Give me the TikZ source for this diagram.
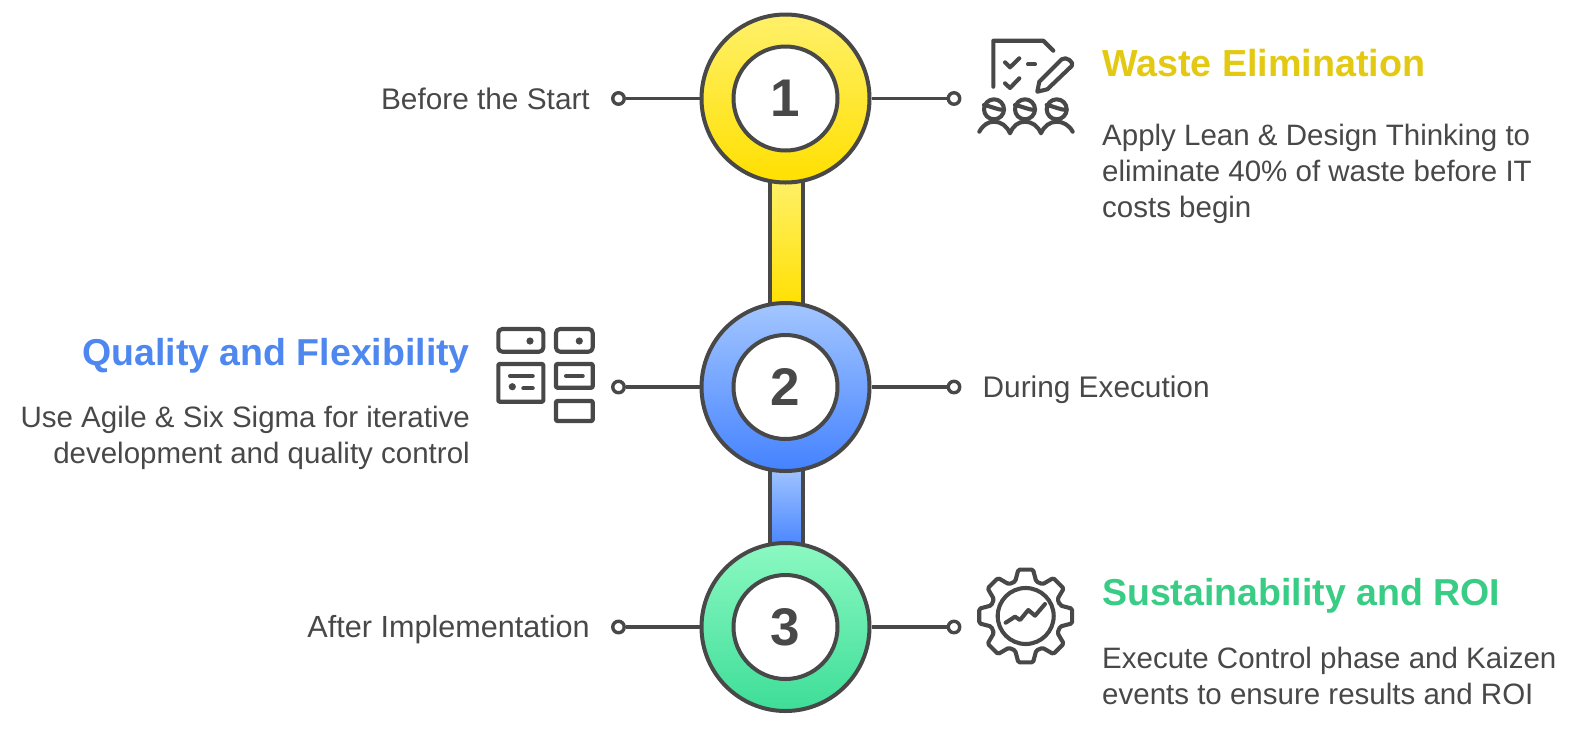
\documentclass[tikz,border=0pt]{standalone}
\usepackage{fontspec}
\setmainfont{Liberation Sans}
\definecolor{ink}{HTML}{484848}
\definecolor{yelT}{HTML}{FFF06A}\definecolor{yelB}{HTML}{FFE000}
\definecolor{bluT}{HTML}{A3C6FF}\definecolor{bluB}{HTML}{4482FF}
\definecolor{grnT}{HTML}{8BF9C2}\definecolor{grnB}{HTML}{3EDD98}
\definecolor{yelH}{HTML}{E3C912}\definecolor{bluH}{HTML}{4E87F0}\definecolor{grnH}{HTML}{38CC85}
\tikzset{
  outer/.style={circle,draw=ink,line width=4pt,minimum size=168pt,inner sep=0pt},
  inner/.style={circle,draw=ink,fill=white,line width=4pt,minimum size=104pt,inner sep=0pt,text=ink,font=\fontsize{53}{53}\selectfont\bfseries},
  barbox/.style={rectangle,draw=ink,line width=4pt,minimum width=33pt,inner sep=0pt},
  pin/.style={circle,draw=ink,fill=white,line width=3.4pt,minimum size=11.5pt,inner sep=0pt},
  stem/.style={draw=ink,line width=3.2pt},
  label/.style={text=ink,font=\fontsize{29.8}{36}\selectfont,inner sep=0pt},
  title/.style={font=\fontsize{37.5}{40}\selectfont\bfseries,inner sep=0pt},
  body/.style={text=ink,font=\fontsize{29.5}{36}\selectfont,inner sep=0pt},
  icon/.style={draw=ink,line width=4.1pt,line cap=round,line join=round},
  icond/.style={fill=ink}
}
\begin{document}
\begin{tikzpicture}[x=1pt,y=-1pt]
\useasboundingbox (0,0) rectangle (1575,740);
% bars
\node[barbox,minimum height=130pt,top color=yelT,bottom color=yelB] (bar1) at (786,243) {};
\node[barbox,minimum height=84pt,top color=bluT,bottom color=bluB] (bar2) at (786,508) {};
% pins
\node[pin] (l1) at (618.5,98.5) {};
\node[pin] (r1) at (954,98.5) {};
\node[pin] (l2) at (618.5,387) {};
\node[pin] (r2) at (954,387) {};
\node[pin] (l3) at (618.5,627) {};
\node[pin] (r3) at (954,627) {};
% circles
\node[outer,top color=yelT,bottom color=yelB] (c1) at (785.5,98.5) {};
\node[outer,top color=bluT,bottom color=bluB] (c2) at (785.5,387) {};
\node[outer,top color=grnT,bottom color=grnB] (c3) at (785.5,627) {};
\foreach \a/\b in {c1/l1,c1/r1,c2/l2,c2/r2,c3/l3,c3/r3} \draw[stem] (\a) -- (\b);
\node[inner] (n1) at (c1) {1};
\node[inner] (n2) at (c2) {2};
\node[inner] (n3) at (c3) {3};
% labels
\node[label,anchor=base east] (t1) at (590,109) {Before the Start};
\node[label,anchor=base west] (t2) at (982.5,397) {During Execution};
\node[label,anchor=base east,font=\fontsize{30.6}{36}\selectfont] (t3) at (590,637) {After Implementation};
% titles
\node[title,text=yelH,anchor=base west,font=\fontsize{37.7}{40}\selectfont\bfseries] (h1) at (1102,76) {Waste Elimination};
\node[title,text=bluH,anchor=base east] (h2) at (470,365) {Quality and Flexibility};
\node[title,text=grnH,anchor=base west] (h3) at (1102,605) {Sustainability and ROI};
% bodies
\node[body,anchor=north west,align=left] (b1) at (1102,124) {Apply Lean \& Design Thinking to\\eliminate 40\% of waste before IT\\costs begin};
\node[body,anchor=north east,align=right] (b2) at (470,406) {Use Agile \& Six Sigma for iterative\\development and quality control};
\node[body,anchor=north west,align=left] (b3) at (1102,647) {Execute Control phase and Kaizen\\events to ensure results and ROI};
% icon 1
\draw[icon] (993.3,86.7) -- (993.3,40.7) -- (1043.3,40.7) -- (1053.3,50.7);
\draw[icon] (1005,62.3) -- (1010,67.3) -- (1019.3,58.3);
\draw[icon] (1005,83.3) -- (1010,88) -- (1019.3,78.3);
\draw[icon] (1028,64.3) -- (1035,64.3);
\draw[icon] (1037.3,91.7) -- (1039.3,81.7) -- (1061.7,59.3) .. controls (1066,55.5) and (1075,63) .. (1071.7,66) -- (1047.3,89.3) -- cycle;
\foreach \x in {994,1025,1056.7} {
  \draw[icon] (\x,109.3) circle (10);
  \draw[icon] (\x-10,105) .. controls (\x-4,106) and (\x+4,110) .. (\x+10,110);
}
\draw[icon] (979.3,131.7) .. controls (983,125) and (988,121.7) .. (994,121.7) .. controls (1001,121.7) and (1007,126) .. (1010,133.3) .. controls (1013,126) and (1018,121.7) .. (1025,121.7) .. controls (1032,121.7) and (1038,126) .. (1041,133.3) .. controls (1044,126) and (1050,121.7) .. (1056.7,121.7) .. controls (1063,121.7) and (1069,125) .. (1072.7,131.7);
% icon 2
\draw[icon,rounded corners=4pt] (498.3,351.7) -- (498.3,329) -- (543.3,329) -- (543.3,351.7) -- cycle;
\draw[icon,rounded corners=4pt] (556,351.7) -- (556,329) -- (592.7,329) -- (592.7,351.7) -- cycle;
\fill[icond] (530,341) circle (3.6);
\fill[icond] (579.3,341) circle (3.6);
\draw[icon,rounded corners=1pt] (498.3,364) rectangle (543.3,401.7);
\draw[icon] (510,376) -- (532.7,376);
\fill[icond] (512.3,386.7) circle (3.6);
\draw[icon] (523.3,388.3) -- (532.7,388.3);
\draw[icon,rounded corners=1pt] (556,364) rectangle (592.7,387.7);
\draw[icon] (566,376) -- (582.7,376);
\draw[icon,rounded corners=1pt] (556,401) rectangle (592.7,421);
% icon 3
\draw[icon] (1025.7,616) circle (28);
\draw[icon] (1005.7,622.7) -- (1015,616.7) -- (1020,620) -- (1028.3,610) -- (1035,615.7) -- (1045,604);
\draw[icon,shift={(1025.7,616)},rounded corners=1.5pt]
  (-17:36)
  \foreach \t in {0,45,...,315} {
    -- ({\t-17}:36) -- ({\t-9}:47) -- ({\t+9}:47) -- ({\t+17}:36)
  } -- cycle;
\end{tikzpicture}
\end{document}
